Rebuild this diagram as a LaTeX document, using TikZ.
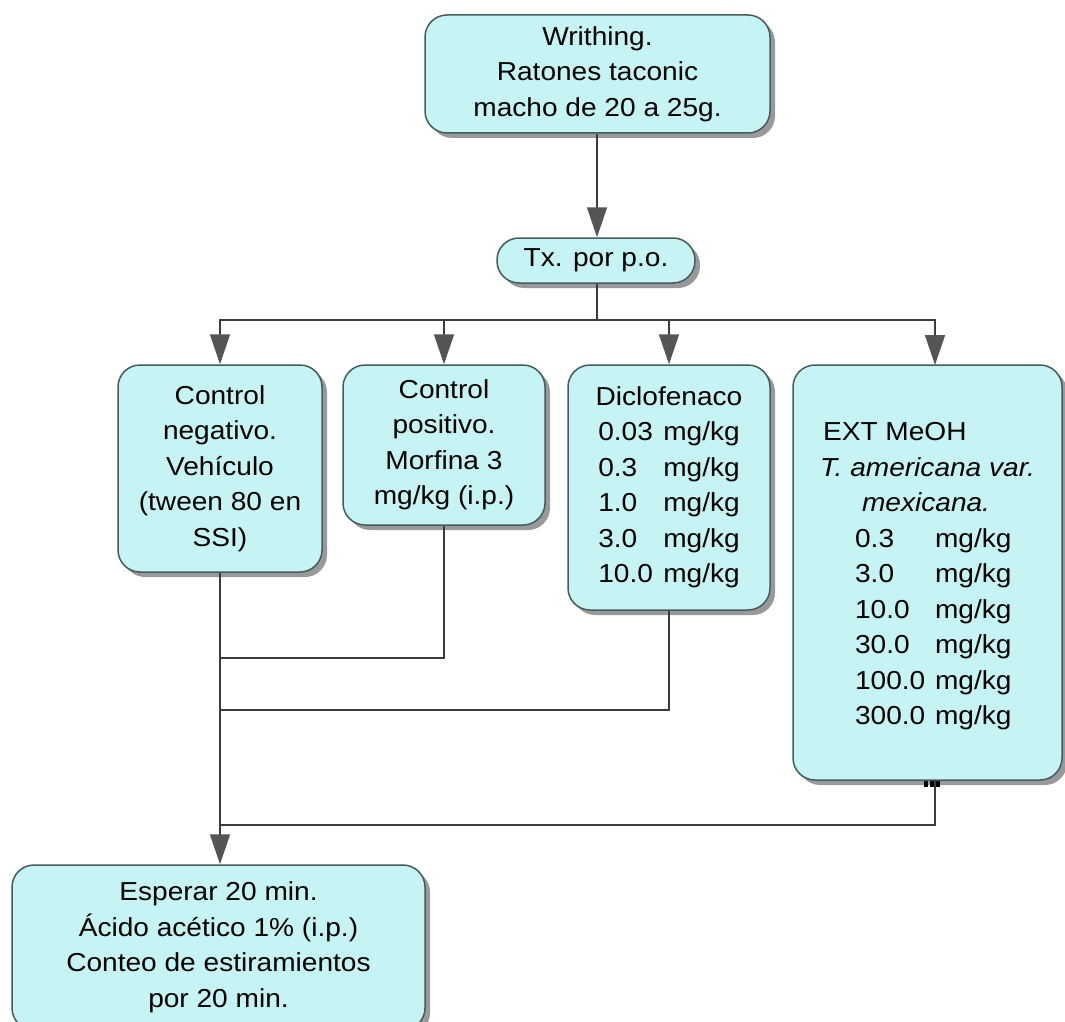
\documentclass[tikz,border=0pt]{standalone}
\usepackage{fontspec}
\setmainfont{Liberation Sans}[FakeStretch=1.08]
\usetikzlibrary{arrows.meta,shadows,calc}
\definecolor{boxfill}{RGB}{198,243,243}
\definecolor{boxedge}{RGB}{70,92,92}
\definecolor{linec}{RGB}{60,60,60}
\definecolor{tipc}{RGB}{85,85,85}
\begin{document}
\begin{tikzpicture}[x=1pt,y=-1pt,
  box/.style={draw=boxedge, line width=1.5pt, fill=boxfill, rounded corners=22pt,
    inner sep=0pt, align=center, font=\fontsize{26}{35.5}\selectfont,
    drop shadow={shadow xshift=5pt, shadow yshift=-5pt, fill=black!50, opacity=0.8}},
  conn/.style={draw=linec, line width=1.5pt},
  arr/.style={conn, -{Triangle[length=30pt,width=20pt,color=tipc]}}]
\useasboundingbox (0,0) rectangle (1065,1022);
\fill[white] (0,0) rectangle (1065,1022);

\node[box, minimum width=345pt, minimum height=118pt] (top) at (597.5,74)
  {Writhing.\\ Ratones taconic\\ macho de 20 a 25g.};
\node[box, minimum width=198pt, minimum height=45pt] (tx) at (596,260.5) {Tx. por p.o.};

\node[box, minimum width=204pt, minimum height=207pt] (b1) at (220,468.5)
  {Control\\ negativo.\\ Vehículo\\ (tween 80 en\\ SSI)};
\node[box, minimum width=202pt, minimum height=160pt] (b2) at (444,445)
  {Control\\ positivo.\\ Morfina 3\\ mg/kg (i.p.)};
\node[box, minimum width=202pt, minimum height=245pt] (b3) at (669,487.5)
  {Diclofenaco\\
   \makebox[65pt][l]{0.03}mg/kg\\
   \makebox[65pt][l]{0.3}mg/kg\\
   \makebox[65pt][l]{1.0}mg/kg\\
   \makebox[65pt][l]{3.0}mg/kg\\
   \makebox[65pt][l]{10.0}mg/kg};
\node[box, minimum width=269pt, minimum height=415pt, align=left] (b4) at (927.5,572.5)
  {\mbox{}\\[-9.5pt]
   \hspace*{3pt}EXT MeOH\\
   \textit{T. americana var.}\\
   \hspace*{42pt}\textit{mexicana.}\\
   \hspace*{35pt}\makebox[80pt][l]{0.3}mg/kg\\
   \hspace*{35pt}\makebox[80pt][l]{3.0}mg/kg\\
   \hspace*{35pt}\makebox[80pt][l]{10.0}mg/kg\\
   \hspace*{35pt}\makebox[80pt][l]{30.0}mg/kg\\
   \hspace*{35pt}\makebox[80pt][l]{100.0}mg/kg\\
   \hspace*{35pt}\makebox[80pt][l]{300.0}mg/kg};
\node[box, minimum width=413pt, minimum height=165pt] (bot) at (218.5,947.5)
  {Esperar 20 min.\\ Ácido acético 1\% (i.p.)\\ Conteo de estiramientos\\ por 20 min.};

% connectors
\coordinate (bus) at (597,320);
\coordinate (m2) at (220,658);
\coordinate (m3) at (220,710);
\coordinate (j) at (220,825);
\coordinate (b4top) at (935,365);
\coordinate (b4bot) at (935,780);

\draw[arr] (top.south -| 597,0) -- (tx.north -| 597,0);
\draw[conn] (tx.south -| 597,0) -- (bus);
\draw[arr] (bus) -| (b1.north);
\draw[arr] (bus) -| (b2.north);
\draw[arr] (bus) -| (b3.north);
\draw[arr] (bus) -| (b4top);

\draw[conn] (b1.south) -- (j);
\draw[conn] (b2.south) |- (m2);
\draw[conn] (b3.south) |- (m3);
\draw[conn] (b4bot) |- (j);
\draw[arr] (j) -- (j |- bot.north);

% small glue marks under the extract box
\foreach \xx in {926,932,938}
  \fill[black] (\xx-2,781) rectangle (\xx+2,787);
\end{tikzpicture}
\end{document}
